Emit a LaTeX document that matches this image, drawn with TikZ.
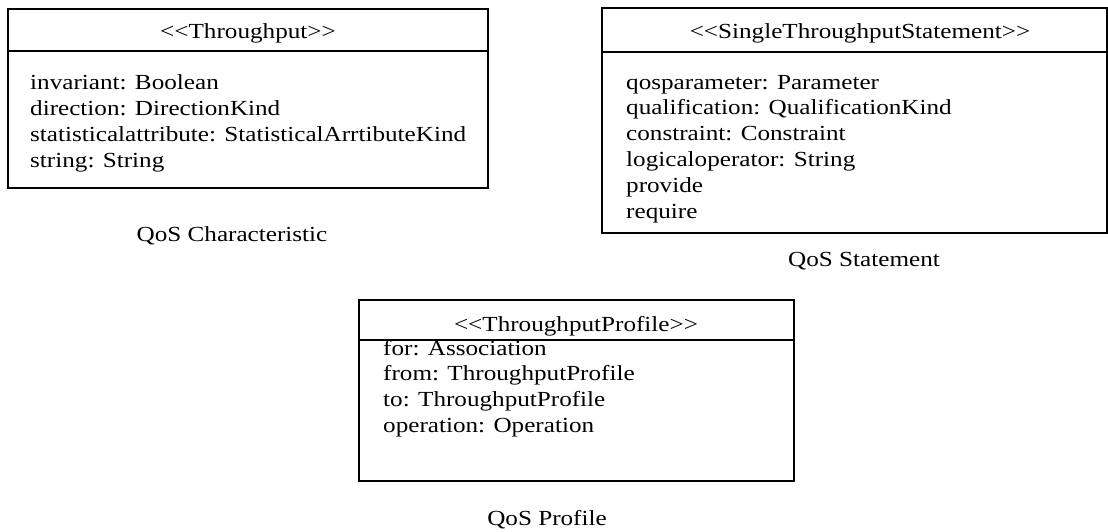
\documentclass[tikz,border=0pt]{standalone}
\usepackage{fontspec}
\setmainfont{Liberation Serif}[FakeStretch=1.17]
\begin{document}
\begin{tikzpicture}[x=1pt,y=-1pt,
  classbox/.style={draw, line width=1.4pt, inner sep=0pt, outer sep=0pt, anchor=north west},
  divider/.style={line width=1.4pt},
  txt/.style={inner sep=0pt, font=\fontsize{21.5}{26}\selectfont},
  attrs/.style={txt, align=left, anchor=base west},
  head/.style={txt, anchor=base},
  caption/.style={txt, anchor=base}]
\useasboundingbox (0,0) rectangle (1108,531);

% QoS characteristic class (attribute block placed by its last baseline)
\node[classbox, minimum width=480pt, minimum height=179pt] (thr) at (8,9) {};
\draw[divider] (thr.west |- 0,51) -- (thr.east |- 0,51);
\node[head] (thrhead) at (248,38) {<{}<Throughput>{}>};
\node[attrs] (thrattr) at (30,167)
  {invariant: Boolean\\direction: DirectionKind\\statisticalattribute: StatisticalArrtibuteKind\\string: String};
\node[caption] (thrcap) at (232,241) {QoS Characteristic};

% QoS statement class
\node[classbox, minimum width=505pt, minimum height=225pt] (stm) at (602,8) {};
\draw[divider] (stm.west |- 0,52) -- (stm.east |- 0,52);
\node[head] (stmhead) at (860,38) {<{}<SingleThroughputStatement>{}>};
\node[attrs, font=\fontsize{21.5}{25.8}\selectfont] (stmattr) at (626,218)
  {qosparameter: Parameter\\qualification: QualificationKind\\constraint: Constraint\\logicaloperator: String\\provide\\require};
\node[caption] (stmcap) at (864,266) {QoS Statement};

% QoS profile class
\node[classbox, minimum width=435pt, minimum height=181pt] (prf) at (359,300) {};
\draw[divider] (prf.west |- 0,340) -- (prf.east |- 0,340);
\node[head] (prfhead) at (576,331) {<{}<ThroughputProfile>{}>};
\node[attrs, font=\fontsize{21.5}{25.6}\selectfont] (prfattr) at (383,432)
  {for: Association\\from: ThroughputProfile\\to: ThroughputProfile\\operation: Operation};
\node[caption] (prfcap) at (547,525) {QoS Profile};
\end{tikzpicture}
\end{document}
